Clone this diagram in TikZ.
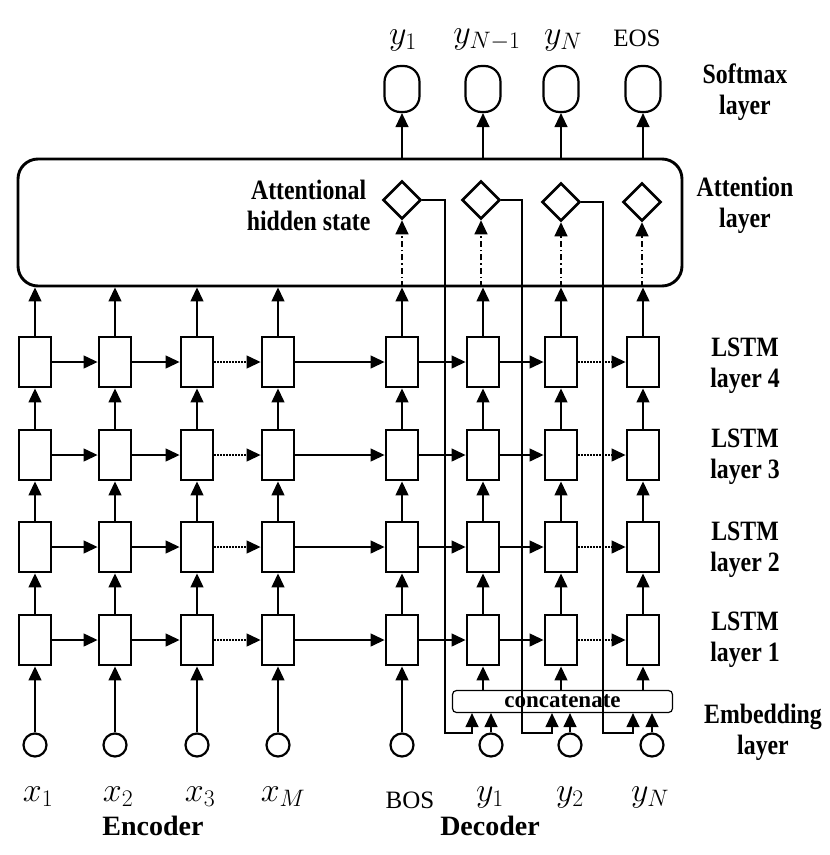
\RequirePackage{fix-cm}
\documentclass[tikz,border=0pt]{standalone}
\usepackage{fontspec}
\setmainfont{Liberation Serif}
\newfontfamily\lblfont[FakeStretch=0.85]{Liberation Serif}
\usetikzlibrary{arrows.meta,shapes.geometric,positioning}

\begin{document}
\begin{tikzpicture}[x=1pt,y=-1pt,
  cell/.style={draw,line width=2.9pt,minimum width=32pt,minimum height=50pt,inner sep=0},
  emb/.style={draw,circle,line width=2.2pt,minimum size=23pt,inner sep=0},
  sm/.style={draw,rounded corners=16pt,line width=2.2pt,minimum width=35pt,minimum height=46pt,inner sep=0},
  hs/.style={draw,diamond,line width=2.6pt,minimum size=38pt,inner sep=0},
  lay/.style={font=\fontsize{28}{31}\lblfont\bfseries,align=center},
  part/.style={font=\fontsize{28}{31}\selectfont\bfseries},
  v/.style={font=\fontsize{34}{36}\selectfont},
  tk/.style={font=\fontsize{25}{28}\selectfont},
  ar/.style={line width=1.3pt,-{Triangle[length=14pt,width=13pt]}},
  dots/.style={dash pattern=on 1.5pt off 1.5pt},
  dd/.style={dash pattern=on 6pt off 3pt on 1.5pt off 3pt}]
\useasboundingbox (0,0) rectangle (830,855);

% LSTM cells, columns 1-4 encoder, 5 BOS, 6-8 decoder
\foreach \c/\x in {1/35,2/115,3/197,4/278,5/402,6/483,7/561,8/643}
  \foreach \r/\y in {1/640,2/547,3/455,4/362}
    \node[cell] (c\c\r) at (\x,\y) {};

\foreach \r in {1,2,3,4}{
  \foreach \a/\b/\s in {1/2/solid,2/3/solid,3/4/dots,4/5/solid,5/6/solid,6/7/solid,7/8/dots}
    \draw[ar,\s] (c\a\r) -- (c\b\r);
  }
\foreach \c in {1,...,8}
  \foreach \r/\q in {1/2,2/3,3/4}
    \draw[ar] (c\c\r) -- (c\c\q);

% attention layer
\node[draw,rounded corners=20pt,line width=2.9pt,minimum width=664pt,minimum height=127pt] (att) at (350,222.5) {};
\foreach \c in {1,...,8}
  \draw[ar] (c\c4) -- (c\c4.north |- att.south);

\foreach \c/\x/\y in {5/402/200,6/481/200,7/561/202,8/642/202}{
  \node[hs] (d\c) at (\x,\y) {};
  \draw[ar,dd] (d\c |- att.south) -- (d\c);
  \node[sm] (s\c) at (c\c1 |- 0,89) {};
  \draw[ar] (s\c |- att.north) -- (s\c);
  }
\node[lay,anchor=east] (ahs) at (374,205) {Attentional\\hidden state};

% embedding layer
\node[draw,rounded corners=4pt,line width=1.2pt,minimum width=220pt,minimum height=22pt,inner sep=0,
  font=\fontsize{23}{24}\selectfont\bfseries] (cat) at (562.5,701.5) {concatenate};
\foreach \c/\x in {1/35,2/115,3/197,4/278,5/402}{
  \node[emb] (e\c) at (\x,745) {};
  \draw[ar] (e\c) -- (c\c1);
  }
\foreach \c/\x in {6/491,7/570,8/652}{
  \node[emb] (e\c) at (\x,745) {};
  \draw[ar] (e\c) -- (e\c |- cat.south);
  \draw[ar] (c\c1 |- cat.north) -- (c\c1);
  }
\foreach \c/\xa/\xb in {5/445/472,6/522/552,7/603/633}{
  \coordinate (k\c) at (\xa,733);
  \coordinate (m\c) at (\xb,733);
  \draw[ar] (d\c.east) -| (k\c) -- (m\c) -- (m\c |- cat.south);
  }

% texts
\foreach \n/\x/\t in {x1/38/x_1,x2/118/x_2,x3/200/x_3,xM/283/x_M,y1/490/y_1,y2/570/y_2,yN/650/y_N}
  \node[v] (t\n) at (\x,797) {$\t$};
\node[tk] (tbos) at (410,800) {BOS};
\foreach \n/\x/\t in {y1/403/y_1,yM/487/y_{N-1},yN/563/y_N}
  \node[v] (o\n) at (\x,40) {$\t$};
\node[tk] (oeos) at (637,38) {EOS};
\node[part] (enc) at (153,826) {Encoder};
\node[part] (dec) at (490,826) {Decoder};

\node[lay] (lsm) at (745,92) {Softmax\\layer};
\node[lay] (lat) at (745,205) {Attention\\layer};
\node[lay] (l4) at (745,366) {LSTM\\layer 4};
\node[lay] (l3) at (745,457) {LSTM\\layer 3};
\node[lay] (l2) at (745,550) {LSTM\\layer 2};
\node[lay] (l1) at (745,640) {LSTM\\layer 1};
\node[lay] (lem) at (763,732) {Embedding\\layer};
\end{tikzpicture}
\end{document}
